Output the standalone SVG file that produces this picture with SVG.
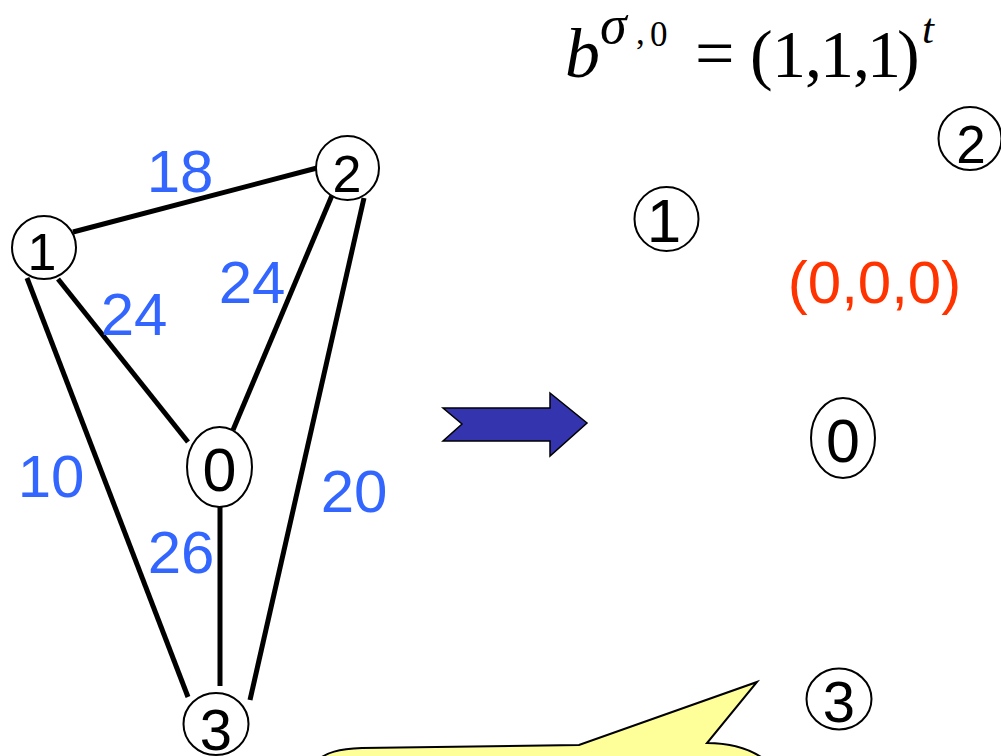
<svg xmlns="http://www.w3.org/2000/svg" width="1001" height="756" viewBox="0 0 1001 756">
<style>
.edge{stroke:#000;stroke-width:5;fill:none}
.node{fill:#fff;stroke:#000;stroke-width:2}
.dig{font-family:"Liberation Sans",Arial,sans-serif;fill:#000;text-anchor:middle}
.w{font-family:"Liberation Sans",Arial,sans-serif;fill:#3366FF;font-size:60px;text-anchor:middle}
.m{font-family:"Liberation Serif","Times New Roman",serif;fill:#000}
</style>
<rect width="1001" height="756" fill="#fff"/>
<g id="connectors">
<line class="edge" x1="73" y1="232" x2="317" y2="168"/>
<line class="edge" x1="58" y1="279" x2="188" y2="442"/>
<line class="edge" x1="27" y1="278" x2="188" y2="697"/>
<line class="edge" x1="333" y1="193" x2="233" y2="430"/>
<line class="edge" x1="364" y1="198" x2="250" y2="700"/>
<line class="edge" x1="220" y1="502" x2="220" y2="686"/>
</g>
<g id="edge-labels">
<text class="w" x="180" y="192">18</text>
<text class="w" x="134" y="335">24</text>
<text class="w" x="252" y="303">24</text>
<text class="w" x="51" y="497">10</text>
<text class="w" x="354" y="512">20</text>
<text class="w" x="181" y="573">26</text>
</g>
<g id="node-1"><ellipse class="node" cx="44" cy="247.5" rx="32" ry="31.5"/><text class="dig" x="42" y="270" font-size="52">1</text></g>
<g id="node-2"><ellipse class="node" cx="347.5" cy="168" rx="31.5" ry="32"/><text class="dig" x="347" y="192" font-size="52">2</text></g>
<g id="node-0"><ellipse class="node" cx="219.5" cy="467" rx="32.5" ry="40"/><text class="dig" x="219.5" y="491" font-size="61">0</text></g>
<g id="node-3"><ellipse class="node" cx="216" cy="724" rx="32.5" ry="31"/><text class="dig" x="216" y="750" font-size="58">3</text></g>
<g id="arrow"><polygon points="443,408 550,408 550,393 587,423 550,456 550,441 443,441 462,424" fill="#3434AE" stroke="#000" stroke-width="1.5" stroke-linejoin="miter"/></g>
<g id="formula">
<text class="m" x="565" y="77" font-size="70" font-style="italic">b</text>
<text class="m" x="600" y="43" font-size="54" font-style="italic">σ</text>
<text class="m" x="636" y="44" font-size="35">,</text>
<text class="m" x="650" y="46" font-size="35">0</text>
<text class="m" x="695" y="77" font-size="70">=</text>
<text class="m" font-size="68" y="77"><tspan x="750">(</tspan><tspan x="772">1</tspan><tspan x="805">,</tspan><tspan x="820">1</tspan><tspan x="853">,</tspan><tspan x="867">1</tspan><tspan x="897">)</tspan></text>
<text class="m" x="922" y="43" font-size="43" font-style="italic">t</text>
</g>
<g id="r-node-2"><circle class="node" cx="970" cy="138.5" r="31.5"/><text class="dig" x="971" y="163" font-size="53">2</text></g>
<g id="r-node-1"><circle class="node" cx="666.5" cy="219" r="32"/><text class="dig" x="664" y="242" font-size="62">1</text></g>
<g id="r-label"><text x="874.5" y="303" font-family="Liberation Sans,Arial,sans-serif" font-size="60" fill="#FF3300" text-anchor="middle">(0,0,0)</text></g>
<g id="r-node-0"><ellipse class="node" cx="843" cy="438" rx="32" ry="40"/><text class="dig" x="843" y="462" font-size="61">0</text></g>
<g id="r-node-3"><ellipse class="node" cx="839" cy="699" rx="32.5" ry="30.5"/><text class="dig" x="839" y="722" font-size="58">3</text></g>
<g id="callout"><path d="M 316 762 C 325 752 340 749 362 748 L 579 745 L 757 682 L 707 743 C 732 743 752 749 768 762 Z" fill="#FFFF99" stroke="#000" stroke-width="2"/></g>
</svg>
